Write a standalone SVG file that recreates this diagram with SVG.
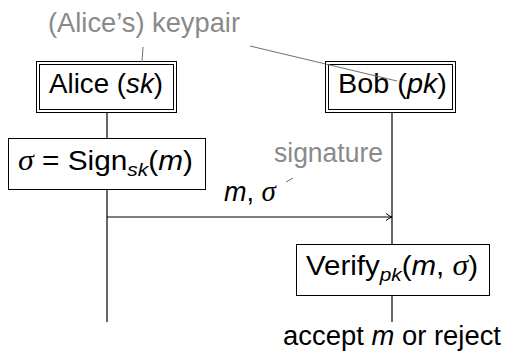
<svg xmlns="http://www.w3.org/2000/svg" width="505" height="357" viewBox="0 0 505 357">
<style>
text{font-family:"Liberation Sans",Arial,sans-serif;font-size:27px;fill:#000}
.g{fill:#8a8a8a}
.it{font-style:italic}
.sg{font-family:"Liberation Serif","DejaVu Serif",serif;font-style:italic;font-size:29px}
.sub{font-size:19px;font-style:italic}
.box{fill:#fff;stroke:#000;stroke-width:1}
.ll{stroke:#000;stroke-width:1.2;fill:none}
.pin{stroke:#707070;stroke-width:1;fill:none}
</style>
<defs>
<marker id="ah" markerWidth="10" markerHeight="10" refX="8" refY="5" orient="auto" markerUnits="userSpaceOnUse">
<path d="M2,1.5 Q5,4 8,5 Q5,6 2,8.5" fill="none" stroke="#000" stroke-width="1"/>
</marker>
</defs>
<g id="connectors">
<line class="ll" x1="107" y1="112" x2="107" y2="322"/>
<line class="ll" x1="392" y1="112" x2="392" y2="322"/>
<line class="ll" x1="107" y1="217" x2="392" y2="217" marker-end="url(#ah)"/>
</g>
<g id="keypair-label">
<text class="g" x="48" y="32" textLength="192" lengthAdjust="spacingAndGlyphs">(Alice’s) keypair</text>
</g>
<g id="alice">
<rect class="box" x="36.5" y="61.5" width="140" height="51"/>
<rect class="box" x="39.5" y="64.5" width="134" height="45"/>
<text x="49" y="93" textLength="114" lengthAdjust="spacingAndGlyphs">Alice (<tspan class="it">sk</tspan>)</text>
</g>
<g id="bob">
<rect class="box" x="325.5" y="61.5" width="130" height="51"/>
<rect class="box" x="328.5" y="64.5" width="124" height="45"/>
<text x="338" y="93" textLength="109" lengthAdjust="spacingAndGlyphs">Bob (<tspan class="it">pk</tspan>)</text>
</g>
<g id="sign">
<rect class="box" x="8.5" y="138.5" width="197" height="51"/>
<text x="18" y="170" textLength="175" lengthAdjust="spacingAndGlyphs"><tspan class="sg">σ</tspan> = Sign<tspan class="sub" dy="6">sk</tspan><tspan dy="-6">(</tspan><tspan class="it">m</tspan>)</text>
</g>
<g id="message">
<text x="224" y="201" textLength="52" lengthAdjust="spacingAndGlyphs"><tspan class="it">m</tspan>, <tspan class="sg">σ</tspan></text>
<text class="g" x="274" y="162" textLength="109" lengthAdjust="spacingAndGlyphs">signature</text>
</g>
<g id="verify">
<rect class="box" x="296.5" y="244.5" width="193" height="51"/>
<text x="306" y="275" textLength="172" lengthAdjust="spacingAndGlyphs">Verify<tspan class="sub" dy="6">pk</tspan><tspan dy="-6">(</tspan><tspan class="it">m</tspan>, <tspan class="sg">σ</tspan>)</text>
</g>
<g id="result">
<text x="283" y="345" textLength="218" lengthAdjust="spacingAndGlyphs">accept <tspan class="it">m</tspan> or reject</text>
</g>
<g id="pins">
<line class="pin" x1="143" y1="47" x2="142" y2="62"/>
<line class="pin" x1="250" y1="46" x2="397" y2="81"/>
<line class="pin" x1="286" y1="182" x2="293" y2="178"/>
</g>
</svg>
